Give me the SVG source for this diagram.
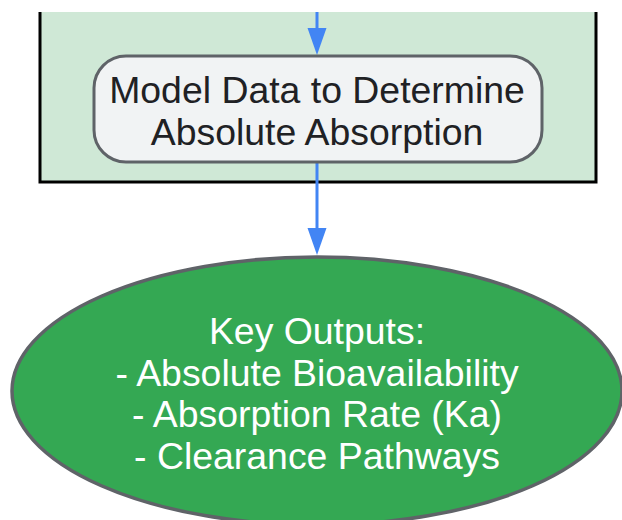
<svg xmlns="http://www.w3.org/2000/svg" width="622" height="520" viewBox="0 0 622 520">
<style>
.lbl{font-family:"Liberation Sans",Arial,sans-serif;font-size:37.4px;text-anchor:middle}
.edge{stroke:#4285f4;stroke-width:3;fill:none}
</style>
<rect x="0" y="0" width="622" height="520" fill="#ffffff"/>
<g id="cluster">
<rect x="40" y="12" width="556" height="170" fill="#cfe8d6"/>
<path d="M40,12 V182 H596 V12" fill="none" stroke="#000000" stroke-width="3"/>
</g>
<g id="edges">
<line class="edge" x1="317" y1="12" x2="317" y2="30"/>
<path d="M307.5,28 L326.5,28 L317,55 Z" fill="#4285f4"/>
<line class="edge" x1="317" y1="163" x2="317" y2="230"/>
<path d="M307.5,228 L326.5,228 L317,255 Z" fill="#4285f4"/>
</g>
<g id="model">
<rect x="94" y="56" width="448" height="106" rx="32" ry="32" fill="#f1f3f4" stroke="#5f6368" stroke-width="3"/>
<text class="lbl" fill="#202124" x="317" y="103">Model Data to Determine</text>
<text class="lbl" fill="#202124" x="317" y="145">Absolute Absorption</text>
</g>
<g id="outputs">
<ellipse cx="317" cy="391" rx="305" ry="134" fill="#34a853" stroke="#5f6368" stroke-width="3.5"/>
<text class="lbl" fill="#ffffff" x="317" y="344">Key Outputs:</text>
<text class="lbl" fill="#ffffff" x="317" y="386">- Absolute Bioavailability</text>
<text class="lbl" fill="#ffffff" x="317" y="427">- Absorption Rate (Ka)</text>
<text class="lbl" fill="#ffffff" x="317" y="469">- Clearance Pathways</text>
</g>
</svg>
